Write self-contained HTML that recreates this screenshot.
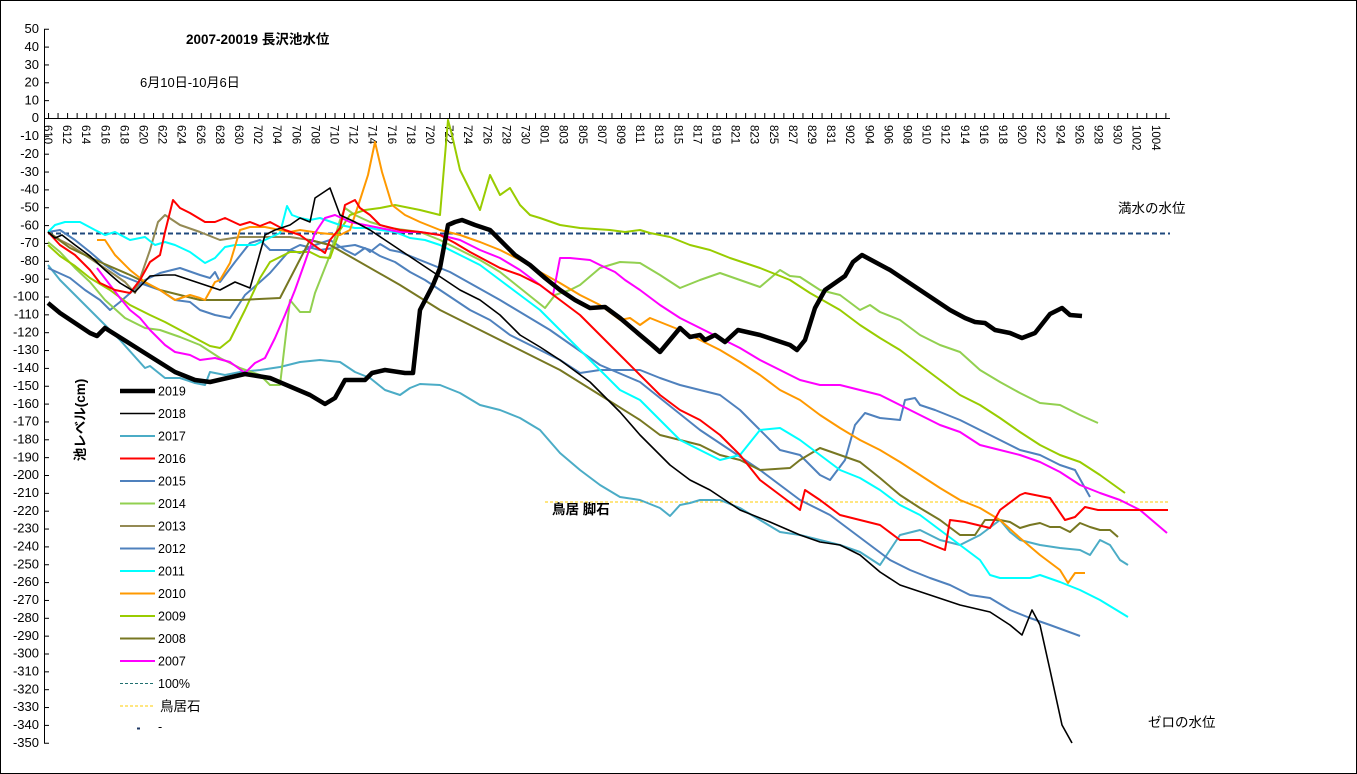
<!DOCTYPE html>
<html><head><meta charset="utf-8"><style>
html,body{margin:0;padding:0;background:#fff}
svg{display:block}
text{font-family:"Liberation Sans","Noto Sans CJK JP",sans-serif;fill:#000}
.yl{font-size:13px;text-anchor:end}
.xl{font-size:11.5px}
.lg{font-size:12.5px}
polyline{fill:none;stroke-linejoin:round;stroke-width:2}
</style></head><body>
<svg width="1357" height="774" viewBox="0 0 1357 774" xmlns="http://www.w3.org/2000/svg">
<defs>
<pattern id="xt" x="48" y="0" width="9.55" height="774" patternUnits="userSpaceOnUse"><line x1="0.5" y1="0" x2="0.5" y2="774" stroke="#000" stroke-width="1"/></pattern>
<pattern id="yt" x="0" y="28.75" width="1357" height="17.85" patternUnits="userSpaceOnUse"><line x1="0" y1="0.5" x2="1357" y2="0.5" stroke="#000" stroke-width="1"/></pattern>
</defs>
<rect x="0.5" y="0.5" width="1356" height="773" fill="#fff" stroke="#000"/>
<line x1="44.5" y1="29" x2="44.5" y2="743" stroke="#000"/>
<rect x="44" y="28" width="5" height="716" fill="url(#yt)"/>
<line x1="44" y1="118.5" x2="1170" y2="118.5" stroke="#000"/>
<rect x="48" y="113" width="1122" height="5" fill="url(#xt)"/>
<g class="yl">
<text x="39" y="33">50</text><text x="39" y="51">40</text><text x="39" y="69">30</text><text x="39" y="86.5">20</text><text x="39" y="104.5">10</text><text x="39" y="122">0</text>
<text x="39" y="140">-10</text><text x="39" y="158">-20</text><text x="39" y="176">-30</text><text x="39" y="193.5">-40</text><text x="39" y="211.5">-50</text><text x="39" y="229.5">-60</text><text x="39" y="247">-70</text><text x="39" y="265">-80</text><text x="39" y="283">-90</text><text x="39" y="300.5">-100</text>
<text x="39" y="318.5">-110</text><text x="39" y="336.5">-120</text><text x="39" y="354">-130</text><text x="39" y="372">-140</text><text x="39" y="390">-150</text><text x="39" y="408">-160</text><text x="39" y="425.5">-170</text><text x="39" y="443.5">-180</text><text x="39" y="461.5">-190</text><text x="39" y="479">-200</text>
<text x="39" y="497">-210</text><text x="39" y="515">-220</text><text x="39" y="532.5">-230</text><text x="39" y="550.5">-240</text><text x="39" y="568.5">-250</text><text x="39" y="586">-260</text><text x="39" y="604">-270</text><text x="39" y="622">-280</text><text x="39" y="640">-290</text><text x="39" y="657.5">-300</text>
<text x="39" y="675.5">-310</text><text x="39" y="693.5">-320</text><text x="39" y="711">-330</text><text x="39" y="729">-340</text><text x="39" y="747">-350</text>
</g>
<g class="xl">
<text transform="translate(48,125) rotate(90)" dy="4">610</text><text transform="translate(67.1,125) rotate(90)" dy="4">612</text><text transform="translate(86.2,125) rotate(90)" dy="4">614</text><text transform="translate(105.3,125) rotate(90)" dy="4">616</text><text transform="translate(124.4,125) rotate(90)" dy="4">618</text><text transform="translate(143.5,125) rotate(90)" dy="4">620</text><text transform="translate(162.6,125) rotate(90)" dy="4">622</text><text transform="translate(181.7,125) rotate(90)" dy="4">624</text><text transform="translate(200.8,125) rotate(90)" dy="4">626</text><text transform="translate(219.9,125) rotate(90)" dy="4">628</text><text transform="translate(239,125) rotate(90)" dy="4">630</text>
<text transform="translate(258.1,125) rotate(90)" dy="4">702</text><text transform="translate(277.2,125) rotate(90)" dy="4">704</text><text transform="translate(296.3,125) rotate(90)" dy="4">706</text><text transform="translate(315.4,125) rotate(90)" dy="4">708</text><text transform="translate(334.5,125) rotate(90)" dy="4">710</text><text transform="translate(353.6,125) rotate(90)" dy="4">712</text><text transform="translate(372.7,125) rotate(90)" dy="4">714</text><text transform="translate(391.8,125) rotate(90)" dy="4">716</text><text transform="translate(410.9,125) rotate(90)" dy="4">718</text><text transform="translate(430,125) rotate(90)" dy="4">720</text><text transform="translate(449.1,125) rotate(90)" dy="4">722</text><text transform="translate(468.2,125) rotate(90)" dy="4">724</text><text transform="translate(487.3,125) rotate(90)" dy="4">726</text><text transform="translate(506.4,125) rotate(90)" dy="4">728</text><text transform="translate(525.5,125) rotate(90)" dy="4">730</text>
<text transform="translate(544.6,125) rotate(90)" dy="4">801</text><text transform="translate(563.7,125) rotate(90)" dy="4">803</text><text transform="translate(582.8,125) rotate(90)" dy="4">805</text><text transform="translate(601.9,125) rotate(90)" dy="4">807</text><text transform="translate(621,125) rotate(90)" dy="4">809</text><text transform="translate(640.1,125) rotate(90)" dy="4">811</text><text transform="translate(659.2,125) rotate(90)" dy="4">813</text><text transform="translate(678.3,125) rotate(90)" dy="4">815</text><text transform="translate(697.4,125) rotate(90)" dy="4">817</text><text transform="translate(716.5,125) rotate(90)" dy="4">819</text><text transform="translate(735.6,125) rotate(90)" dy="4">821</text><text transform="translate(754.7,125) rotate(90)" dy="4">823</text><text transform="translate(773.8,125) rotate(90)" dy="4">825</text><text transform="translate(792.9,125) rotate(90)" dy="4">827</text><text transform="translate(812,125) rotate(90)" dy="4">829</text><text transform="translate(831.1,125) rotate(90)" dy="4">831</text>
<text transform="translate(850.2,125) rotate(90)" dy="4">902</text><text transform="translate(869.3,125) rotate(90)" dy="4">904</text><text transform="translate(888.4,125) rotate(90)" dy="4">906</text><text transform="translate(907.5,125) rotate(90)" dy="4">908</text><text transform="translate(926.6,125) rotate(90)" dy="4">910</text><text transform="translate(945.7,125) rotate(90)" dy="4">912</text><text transform="translate(964.8,125) rotate(90)" dy="4">914</text><text transform="translate(983.9,125) rotate(90)" dy="4">916</text><text transform="translate(1003,125) rotate(90)" dy="4">918</text><text transform="translate(1022.1,125) rotate(90)" dy="4">920</text><text transform="translate(1041.2,125) rotate(90)" dy="4">922</text><text transform="translate(1060.3,125) rotate(90)" dy="4">924</text><text transform="translate(1079.4,125) rotate(90)" dy="4">926</text><text transform="translate(1098.5,125) rotate(90)" dy="4">928</text><text transform="translate(1117.6,125) rotate(90)" dy="4">930</text>
<text transform="translate(1136.7,125) rotate(90)" dy="4">1002</text><text transform="translate(1155.8,125) rotate(90)" dy="4">1004</text>
</g>
<line x1="48" y1="233.5" x2="1170" y2="233.5" stroke="#1f497d" stroke-width="2" stroke-dasharray="5,3"/>
<line x1="545" y1="502" x2="1168" y2="502" stroke="#ffcc00" stroke-width="1" stroke-dasharray="3,2"/>
<polyline stroke="#4bacc6" points="48,265 60,280 80,300 100,320 120,340 145,368 150,366 165,378 180,378 195,383 205,385 210,372 225,375 240,372 260,370 280,367 300,362 320,360 340,362 355,372 370,378 385,390 400,395 410,388 420,384 440,385 460,393 480,405 500,410 520,418 540,430 560,453 580,470 600,485 620,497 640,500 660,508 670,516 680,505 690,503 700,500 720,500 740,508 760,520 780,532 800,535 820,540 840,545 860,552 880,565 900,535 920,530 940,540 960,545 980,535 1000,520 1010,532 1020,540 1040,545 1060,548 1080,550 1090,555 1100,540 1110,545 1120,560 1128,565"/>
<polyline stroke="#4f81bd" points="48,268 70,278 85,290 100,300 110,310 120,302 145,280 160,273 180,268 200,275 210,278 215,272 220,282 235,262 250,243 260,240 270,250 290,250 300,253 315,245 330,240 345,250 355,255 365,248 370,252 380,244 390,250 400,252 450,272 500,300 550,330 600,365 640,382 700,430 760,470 800,500 830,515 850,530 870,545 890,560 910,570 930,578 950,585 970,595 990,598 1010,610 1030,618 1050,625 1080,636"/>
<polyline stroke="#4f81bd" points="48,232 60,230 75,240 90,252 105,265 120,275 140,283 160,290 175,300 190,302 200,310 215,315 230,318 245,295 260,282 270,273 290,250 300,245 320,250 340,247 355,245 370,250 380,256 395,262 410,272 425,280 440,290 455,300 470,310 490,320 510,335 530,345 560,360 580,373 600,370 640,370 660,378 680,385 720,395 740,410 760,430 780,450 800,455 820,475 830,480 845,460 855,425 865,413 880,418 900,420 905,400 915,398 920,405 935,410 960,420 980,430 1000,440 1020,450 1040,455 1060,465 1075,470 1090,497"/>
<polyline stroke="#92d050" points="48,242 60,252 75,268 90,282 105,300 125,318 145,328 160,330 180,337 200,345 220,358 240,368 260,375 270,385 280,385 290,300 300,312 310,312 315,293 330,255 340,220 345,208 355,215 370,222 380,225 390,228 420,232 440,240 460,250 480,260 500,272 520,288 545,308 555,295 570,290 580,285 600,268 620,262 640,263 660,275 680,288 700,280 720,273 740,280 760,287 780,270 790,276 800,277 820,290 840,295 860,310 870,305 880,312 900,320 920,335 940,345 960,352 980,370 1000,382 1020,393 1040,403 1060,405 1080,415 1098,423"/>
<polyline stroke="#99cc00" points="48,245 60,256 75,266 90,278 110,290 130,305 150,315 165,322 180,330 195,338 210,346 220,348 230,340 245,310 260,278 270,262 290,252 310,252 320,257 330,258 340,230 350,215 365,210 380,208 395,205 410,208 420,210 440,215 448,120 452,135 460,170 470,190 480,210 490,175 500,195 510,188 520,205 530,215 540,218 560,225 580,228 610,230 625,232 640,230 650,233 670,237 690,245 710,250 730,258 760,268 790,280 810,293 840,310 860,325 880,338 900,350 920,365 940,380 960,395 980,405 1000,418 1020,432 1040,445 1060,455 1080,462 1100,475 1125,493"/>
<polyline stroke="#948a54" points="48,232 60,240 70,245 85,255 100,265 115,275 125,282 135,293 150,250 158,222 165,215 180,225 200,232 220,240 240,237 260,237 290,237 310,240 330,245"/>
<polyline stroke="#777722" points="48,232 70,248 100,262 130,275 160,290 200,300 240,300 280,298 310,240 330,245 400,285 440,310 480,330 520,350 560,370 600,395 640,420 660,435 680,440 700,445 720,455 740,460 760,470 790,468 800,460 820,448 840,455 860,462 880,478 900,495 920,508 940,520 960,535 975,535 985,520 1000,520 1010,522 1020,528 1030,525 1040,523 1050,527 1060,527 1070,532 1080,523 1090,527 1100,530 1110,530 1118,537"/>
<polyline stroke="#00ffff" points="48,232 55,225 65,222 80,222 95,230 105,235 115,232 130,240 145,237 155,245 165,242 175,245 190,252 205,263 215,258 225,247 235,245 255,245 265,240 280,233 287,206 292,215 300,218 310,220 320,218 340,225 355,228 370,228 380,230 395,232 410,238 425,240 440,245 460,255 480,265 500,280 520,295 540,310 560,330 580,350 600,370 620,390 640,400 660,420 680,440 700,450 720,460 740,455 760,430 780,428 800,440 820,455 840,470 860,478 880,490 900,505 920,515 940,530 960,545 980,560 990,575 1000,578 1030,578 1040,575 1060,582 1080,590 1100,600 1128,617"/>
<polyline stroke="#ff9900" points="97,240 105,240 115,255 130,270 145,282 160,290 175,300 190,295 200,298 205,300 215,282 220,280 230,263 240,230 250,227 265,227 280,230 290,232 300,230 320,233 340,235 350,230 360,200 368,175 375,142 382,172 392,205 405,215 420,222 440,230 460,235 480,242 500,250 520,260 540,272 560,283 580,295 600,305 620,320 630,318 640,325 650,318 660,322 680,330 700,340 720,350 740,362 760,375 780,390 800,400 820,415 840,428 860,440 880,450 900,462 920,475 940,488 960,500 980,508 1000,520 1020,538 1040,555 1060,570 1068,583 1075,573 1085,573"/>
<polyline stroke="#ff00ff" points="97,268 110,285 120,298 130,310 140,318 150,330 165,345 175,352 190,355 200,360 215,358 230,362 245,373 255,363 265,358 275,338 285,315 295,290 305,262 315,233 325,218 335,215 350,222 365,225 380,228 400,232 420,232 440,235 460,240 480,250 500,258 520,270 540,285 553,295 560,258 570,258 590,260 600,265 615,272 625,280 640,290 660,305 680,318 700,328 720,338 740,348 760,360 780,370 800,380 820,385 840,385 860,390 880,395 900,405 920,415 940,425 960,432 980,445 1000,450 1020,455 1040,462 1060,472 1080,485 1100,493 1120,500 1140,510 1167,533"/>
<polyline stroke="#ff0000" points="48,232 60,245 75,255 90,270 100,283 115,290 130,293 140,280 150,262 160,255 165,232 173,200 180,208 190,213 205,222 215,222 225,218 240,225 250,222 260,226 270,222 285,230 300,235 315,246 325,253 330,240 340,228 345,205 355,200 360,208 370,215 380,225 400,230 420,232 440,235 455,243 470,252 485,260 500,268 520,275 540,285 560,300 580,315 600,335 620,355 640,375 660,395 680,410 700,420 720,435 740,455 760,480 780,495 800,510 805,490 820,500 840,515 860,520 880,525 900,540 920,540 945,550 950,520 965,522 990,528 1000,510 1020,495 1025,493 1050,498 1065,520 1075,517 1085,507 1098,510 1115,510 1168,510"/>
<polyline stroke="#000" style="stroke-width:1.6" points="48,232 55,238 62,235 75,245 90,256 105,270 120,283 135,292 150,276 165,275 175,275 190,280 205,285 220,290 235,282 250,288 258,260 265,235 275,230 290,225 300,218 310,222 315,198 330,188 340,215 355,222 370,230 385,240 400,250 415,260 430,270 445,280 460,290 480,300 500,315 520,335 540,347 560,360 590,382 620,412 640,435 670,465 690,480 710,490 740,510 770,522 800,535 820,542 840,545 860,555 880,572 900,585 930,595 960,605 990,612 1010,625 1022,635 1032,610 1040,625 1050,670 1062,725 1072,743"/>
<polyline stroke="#000" style="stroke-width:4.5" points="48,303 60,313 75,323 90,333 97,336 105,328 140,350 175,372 195,380 210,382 245,374 270,378 310,395 325,404 335,398 345,380 365,380 372,373 385,370 405,373 413,373 420,310 433,285 440,268 448,225 455,222 462,220 475,225 490,230 500,240 515,255 530,265 545,278 560,290 575,300 590,308 605,307 620,318 640,335 652,345 660,352 680,328 690,337 700,335 705,340 715,335 725,342 738,330 760,335 775,340 790,345 797,350 805,340 815,308 825,290 835,283 845,276 853,262 862,255 875,262 890,270 905,280 920,290 935,300 950,310 965,318 975,322 985,323 995,330 1010,333 1022,338 1035,333 1050,314 1062,308 1070,315 1082,316"/>
<text x="186" y="44" style="font-size:13.5px;font-weight:bold">2007-20019 長沢池水位</text>
<text x="140" y="87" style="font-size:13px">6月10日-10月6日</text>
<text x="1118" y="213" style="font-size:13.5px">満水の水位</text>
<text x="1148" y="727" style="font-size:13.5px">ゼロの水位</text>
<text x="552" y="514" style="font-size:13.5px;font-weight:bold">鳥居 脚石</text>
<text transform="translate(85,420) rotate(-90)" style="font-size:13.5px;font-weight:bold;text-anchor:middle">池レベル(cm)</text>
<g class="lg">
<line x1="120" y1="391" x2="155" y2="391" stroke="#000" stroke-width="4.5"/><text x="158" y="395.5">2019</text>
<line x1="120" y1="413.5" x2="155" y2="413.5" stroke="#000" stroke-width="1.6"/><text x="158" y="418">2018</text>
<line x1="120" y1="436" x2="155" y2="436" stroke="#4bacc6" stroke-width="2"/><text x="158" y="440.5">2017</text>
<line x1="120" y1="458.5" x2="155" y2="458.5" stroke="#ff0000" stroke-width="2"/><text x="158" y="463">2016</text>
<line x1="120" y1="481" x2="155" y2="481" stroke="#4f81bd" stroke-width="2"/><text x="158" y="485.5">2015</text>
<line x1="120" y1="503.5" x2="155" y2="503.5" stroke="#92d050" stroke-width="2"/><text x="158" y="508">2014</text>
<line x1="120" y1="526" x2="155" y2="526" stroke="#948a54" stroke-width="2"/><text x="158" y="530.5">2013</text>
<line x1="120" y1="548.5" x2="155" y2="548.5" stroke="#4f81bd" stroke-width="2"/><text x="158" y="553">2012</text>
<line x1="120" y1="571" x2="155" y2="571" stroke="#00ffff" stroke-width="2"/><text x="158" y="575.5">2011</text>
<line x1="120" y1="593.5" x2="155" y2="593.5" stroke="#ff9900" stroke-width="2"/><text x="158" y="598">2010</text>
<line x1="120" y1="616" x2="155" y2="616" stroke="#99cc00" stroke-width="2"/><text x="158" y="620.5">2009</text>
<line x1="120" y1="638.5" x2="155" y2="638.5" stroke="#777722" stroke-width="2"/><text x="158" y="643">2008</text>
<line x1="120" y1="661" x2="155" y2="661" stroke="#ff00ff" stroke-width="2"/><text x="158" y="665.5">2007</text>
<line x1="120" y1="683.5" x2="155" y2="683.5" stroke="#1f6f6f" stroke-width="1" stroke-dasharray="3,2"/><text x="158" y="688">100%</text>
<line x1="120" y1="706" x2="155" y2="706" stroke="#ffcc00" stroke-width="1" stroke-dasharray="3,2"/><text x="160" y="711" style="font-size:13.5px">鳥居石</text>
<line x1="137" y1="728.5" x2="140" y2="728.5" stroke="#1f3864" stroke-width="2"/><text x="158" y="731">-</text>
</g>
</svg>
</body></html>
